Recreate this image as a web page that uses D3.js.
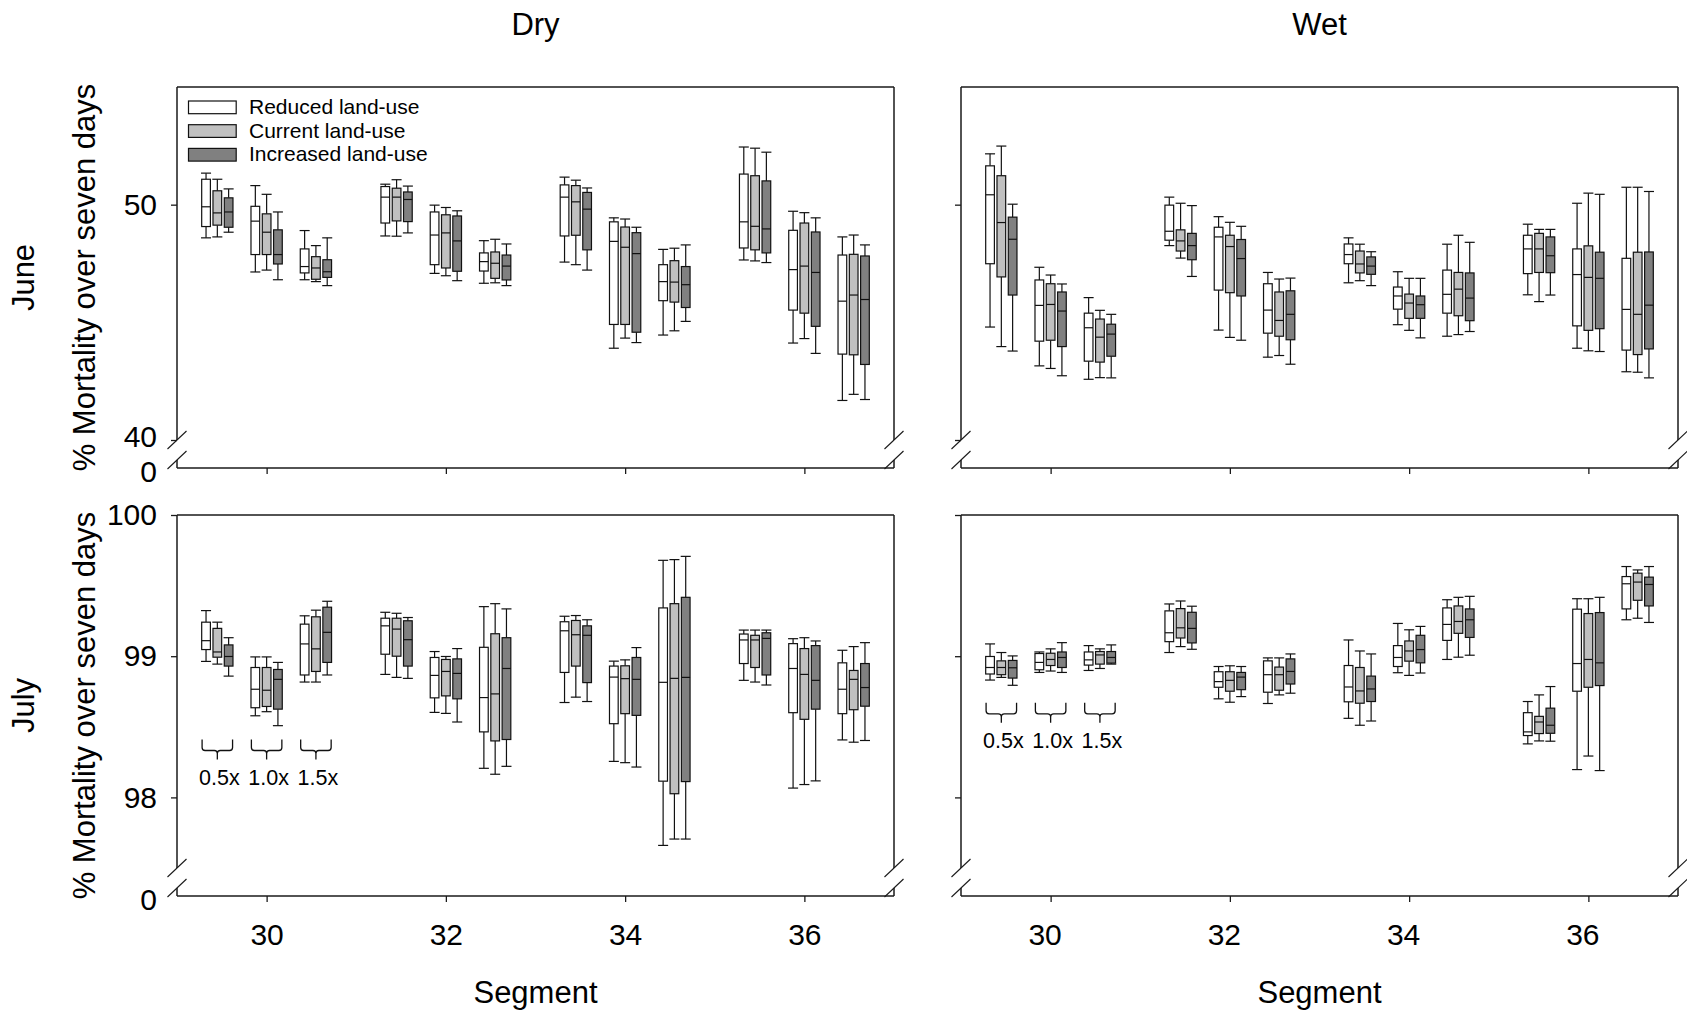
<!DOCTYPE html>
<html><head><meta charset="utf-8">
<script src="https://cdn.jsdelivr.net/npm/d3@7"></script>
<style>
html,body{margin:0;padding:0;background:#fff;}
svg{display:block;}
text{font-family:"Liberation Sans",Arial,Helvetica,sans-serif;fill:#000;}
</style></head><body>
<svg id="chart" width="1687" height="1014"></svg>
<script>
// ---------------- data ----------------
const segments = [30, 32, 34, 36];
const scenarios = ["0.5x", "1.0x", "1.5x"];
const scenarioOffsets = [-0.55, 0, 0.55];
const landUses = ["Reduced land-use", "Current land-use", "Increased land-use"];
const landUseOffsets = [-0.126, 0, 0.126];
const landUseFills = ["#ffffff", "#c0c0c0", "#808080"];
const columns = ["Dry", "Wet"];
const rows = ["June", "July"];
const juneYTicks = [40, 50];
const julyYTicks = [98, 99, 100];
const juneDomain = [40, 55];
const julyDomain = [97.5, 100];
const braceTops = [98.41, 98.67]; // July, Dry / Wet annotation level

// 12 groups (segment x scenario); each group: 3 boxes [lowWhisker, q1, median, q3, highWhisker]
const juneDry = [
  [[48.59,49.07,49.91,51.08,51.34],[48.63,49.13,49.65,50.59,51.08],[48.83,49.04,49.69,50.29,50.67]],
  [[47.14,47.88,49.30,49.93,50.81],[47.22,47.88,48.83,49.61,50.44],[46.81,47.48,47.88,48.93,49.69]],
  [[46.81,47.10,47.37,48.12,48.90],[46.73,46.83,47.31,47.79,48.26],[46.56,46.91,47.15,47.66,48.59]],
  [[48.67,49.22,50.32,50.77,50.87],[48.66,49.31,50.32,50.70,51.06],[48.80,49.28,50.22,50.54,50.79]],
  [[47.08,47.45,48.71,49.69,49.98],[46.98,47.31,48.80,49.57,49.88],[46.77,47.17,48.46,49.52,49.74]],
  [[46.66,47.18,47.58,47.95,48.47],[46.68,46.87,47.51,47.99,48.53],[46.56,46.80,47.39,47.86,48.33]],
  [[47.56,48.67,50.32,50.84,51.17],[47.45,48.70,50.12,50.81,51.04],[47.22,48.08,49.81,50.52,50.71]],
  [[43.90,44.91,48.44,49.27,49.44],[44.33,44.91,48.19,49.05,49.39],[44.14,44.58,47.92,48.81,49.04]],
  [[44.46,45.92,46.73,47.45,48.10],[44.64,45.86,46.71,47.62,48.15],[45.04,45.63,46.60,47.37,48.29]],
  [[47.65,48.16,49.27,51.30,52.45],[47.61,48.08,49.08,51.23,52.40],[47.54,47.95,48.97,51.01,52.23]],
  [[44.12,45.52,47.24,48.91,49.72],[44.31,45.39,47.39,49.22,49.66],[43.68,44.83,47.12,48.84,49.44]],
  [[41.68,43.65,45.90,47.86,48.63],[41.94,43.62,46.16,47.89,48.71],[41.72,43.21,45.97,47.82,48.29]]
];
const juneWet = [
  [[44.80,47.49,50.42,51.65,52.16],[43.97,46.93,49.24,51.23,52.49],[43.78,46.16,48.53,49.47,50.02]],
  [[43.15,44.20,45.72,46.80,47.34],[43.04,44.24,45.76,46.64,47.01],[42.73,43.97,45.48,46.29,46.63]],
  [[42.58,43.35,44.77,45.39,46.05],[42.65,43.31,44.37,45.14,45.51],[42.64,43.56,44.50,44.92,45.34]],
  [[48.26,48.49,48.87,49.98,50.32],[47.73,48.03,48.46,48.93,50.06],[46.95,47.66,48.26,48.78,49.96]],
  [[44.67,46.37,48.63,49.04,49.49],[44.36,46.26,48.22,48.70,49.25],[44.24,46.12,47.71,48.52,49.08]],
  [[43.52,44.54,45.52,46.64,47.12],[43.59,44.41,45.08,46.29,46.84],[43.22,44.26,45.34,46.34,46.88]],
  [[46.68,47.49,47.88,48.33,48.59],[46.77,47.10,47.48,48.03,48.32],[46.56,47.04,47.39,47.78,48.00]],
  [[44.90,45.56,46.12,46.50,47.15],[44.66,45.17,45.82,46.20,46.87],[44.34,45.17,45.75,46.12,46.87]],
  [[44.41,45.39,46.19,47.22,48.32],[44.48,45.28,46.41,47.12,48.70],[44.61,45.07,46.03,47.10,48.40]],
  [[46.17,47.07,48.12,48.70,49.17],[45.88,47.12,48.12,48.78,48.95],[46.16,47.11,47.83,48.63,48.95]],
  [[43.90,44.85,47.03,48.12,50.06],[43.79,44.66,46.91,48.25,50.49],[43.76,44.73,46.87,47.98,50.44]],
  [[42.90,43.82,45.55,47.72,50.74],[42.88,43.63,45.34,47.98,50.74],[42.64,43.87,45.73,47.99,50.56]]
];
const julyDry = [
  [[98.963,99.047,99.110,99.241,99.323],[98.944,98.993,99.030,99.197,99.241],[98.859,98.930,98.998,99.080,99.131]],
  [[98.578,98.635,98.766,98.920,98.995],[98.607,98.644,98.759,98.920,98.995],[98.508,98.625,98.836,98.906,98.956]],
  [[98.817,98.867,99.087,99.227,99.286],[98.817,98.892,99.052,99.279,99.326],[98.867,98.956,99.169,99.347,99.389]],
  [[98.871,99.014,99.215,99.269,99.311],[98.850,99.000,99.192,99.269,99.304],[98.843,98.930,99.117,99.251,99.274]],
  [[98.602,98.705,98.864,98.991,99.033],[98.595,98.719,98.892,98.977,98.998],[98.534,98.698,98.878,98.981,99.054]],
  [[98.206,98.464,98.707,99.063,99.351],[98.164,98.400,98.733,99.159,99.372],[98.220,98.410,98.913,99.131,99.335]],
  [[98.672,98.885,99.180,99.244,99.283],[98.710,98.930,99.152,99.253,99.288],[98.679,98.813,99.148,99.215,99.258]],
  [[98.255,98.522,98.852,98.930,98.965],[98.246,98.593,98.841,98.932,98.974],[98.215,98.581,98.836,98.991,99.061]],
  [[97.660,98.115,98.815,99.342,99.679],[97.705,98.026,98.843,99.372,99.684],[97.705,98.112,98.850,99.417,99.707]],
  [[98.829,98.948,99.115,99.157,99.185],[98.817,98.920,99.115,99.148,99.185],[98.796,98.867,99.126,99.166,99.185]],
  [[98.066,98.600,98.913,99.089,99.124],[98.091,98.553,98.871,99.054,99.131],[98.117,98.625,98.829,99.075,99.108]],
  [[98.407,98.593,98.766,98.953,99.042],[98.391,98.621,98.836,98.899,99.068],[98.403,98.646,98.778,98.948,99.096]]
];
const julyWet = [
  [[98.831,98.874,98.920,98.998,99.087],[98.850,98.869,98.920,98.967,99.026],[98.794,98.845,98.918,98.970,99.002]],
  [[98.885,98.904,98.956,99.019,99.030],[98.895,98.934,98.977,99.021,99.052],[98.885,98.920,98.991,99.030,99.096]],
  [[98.899,98.937,98.974,99.030,99.075],[98.913,98.944,99.009,99.033,99.052],[98.944,98.951,98.991,99.033,99.080]],
  [[99.026,99.103,99.166,99.321,99.370],[99.068,99.129,99.201,99.337,99.391],[99.049,99.094,99.197,99.311,99.354]],
  [[98.698,98.780,98.820,98.890,98.927],[98.674,98.752,98.829,98.890,98.932],[98.714,98.763,98.852,98.885,98.927]],
  [[98.665,98.745,98.869,98.967,98.988],[98.726,98.759,98.869,98.923,98.988],[98.738,98.803,98.892,98.981,99.016]],
  [[98.560,98.677,98.782,98.934,99.115],[98.511,98.667,98.754,98.920,99.037],[98.541,98.679,98.768,98.859,99.016]],
  [[98.883,98.927,98.991,99.075,99.232],[98.864,98.965,99.037,99.108,99.187],[98.881,98.953,99.047,99.148,99.211]],
  [[98.977,99.112,99.225,99.342,99.400],[98.993,99.162,99.246,99.356,99.417],[99.007,99.133,99.258,99.335,99.424]],
  [[98.379,98.438,98.464,98.600,98.679],[98.400,98.452,98.534,98.574,98.726],[98.398,98.454,98.511,98.632,98.785]],
  [[98.197,98.752,98.948,99.333,99.407],[98.293,98.780,98.977,99.302,99.407],[98.190,98.792,98.953,99.309,99.417]],
  [[99.258,99.335,99.513,99.564,99.635],[99.269,99.396,99.525,99.588,99.611],[99.239,99.356,99.508,99.560,99.635]]
];

// ---------------- layout ----------------
const svg = d3.select("#chart");
const colX = [177, 961];
const panelW = 717;
const rowY = [87, 515];
const panelH = 381;
const linH = 353;          // height of linear (unbroken) part
const lowerBreak = 373;    // position of lower break slash from panel top
const boxHalf = 0.0485;    // half box width in x units
const capHalf = 0.056;
const frameColor = "#1a1a1a";
const xLabelShift = [0, -6]; // tick label horizontal nudge per column

const panels = [
  {row: 0, col: 0, data: juneDry, domain: juneDomain, ticks: juneYTicks},
  {row: 0, col: 1, data: juneWet, domain: juneDomain, ticks: juneYTicks},
  {row: 1, col: 0, data: julyDry, domain: julyDomain, ticks: julyYTicks},
  {row: 1, col: 1, data: julyWet, domain: julyDomain, ticks: julyYTicks}
];

panels.forEach(p => {
  const left = colX[p.col], right = left + panelW;
  const top = rowY[p.row], bottom = top + panelH;
  const x = d3.scaleLinear().domain([29, 37]).range([left, right]);
  const y = d3.scaleLinear().domain(p.domain).range([top + linH, top]);
  const g = svg.append("g");

  // boxes
  p.data.forEach((grp, gi) => {
    const seg = segments[Math.floor(gi / 3)];
    const sc = gi % 3;
    grp.forEach((b, j) => {
      const c = seg + scenarioOffsets[sc] + landUseOffsets[j];
      const cx = x(c), x0 = x(c - boxHalf), x1 = x(c + boxHalf);
      const cx0 = x(c - capHalf), cx1 = x(c + capHalf);
      const [lo, q1, med, q3, hi] = b;
      const bg = g.append("g").attr("stroke", "#111").attr("stroke-width", 1.2);
      bg.append("line").attr("x1", cx).attr("x2", cx).attr("y1", y(hi)).attr("y2", y(q3));
      bg.append("line").attr("x1", cx).attr("x2", cx).attr("y1", y(q1)).attr("y2", y(lo));
      bg.append("line").attr("x1", cx0).attr("x2", cx1).attr("y1", y(hi)).attr("y2", y(hi));
      bg.append("line").attr("x1", cx0).attr("x2", cx1).attr("y1", y(lo)).attr("y2", y(lo));
      bg.append("rect").attr("x", x0).attr("y", y(q3)).attr("width", x1 - x0)
        .attr("height", Math.max(0.5, y(q1) - y(q3))).attr("fill", landUseFills[j]);
      bg.append("line").attr("x1", x0).attr("x2", x1).attr("y1", y(med)).attr("y2", y(med));
    });
  });

  // frame with axis breaks
  const fr = g.append("g").attr("stroke", frameColor).attr("stroke-width", 1.5).attr("fill", "none");
  fr.append("line").attr("x1", left).attr("x2", right).attr("y1", top).attr("y2", top);
  fr.append("line").attr("x1", left).attr("x2", right).attr("y1", bottom).attr("y2", bottom);
  [left, right].forEach(X => {
    fr.append("line").attr("x1", X).attr("x2", X).attr("y1", top).attr("y2", top + linH);
    fr.append("line").attr("x1", X).attr("x2", X).attr("y1", top + lowerBreak).attr("y2", bottom);
    [top + linH, top + lowerBreak].forEach(Y => {
      fr.append("line").attr("stroke-width", 1.1)
        .attr("x1", X - 9.5).attr("y1", Y + 9).attr("x2", X + 9.5).attr("y2", Y - 9);
    });
  });

  // y axis
  const yAxis = d3.axisLeft(y).tickValues(p.ticks).tickSize(6).tickPadding(14)
    .tickFormat(p.col === 0 ? d3.format("d") : () => "");
  const ya = g.append("g").attr("transform", `translate(${left},0)`).call(yAxis);
  ya.select(".domain").remove();
  ya.selectAll("line").attr("stroke", frameColor).attr("stroke-width", 1.3);
  ya.selectAll("text").attr("font-size", 30).attr("font-family", "Liberation Sans, Arial, sans-serif");
  // keep the lowest tick label clear of the "0" label below the break
  ya.selectAll(".tick text").filter(d => d === p.ticks[0] && p.row === 0).attr("dy", "0.2em");
  if (p.col === 0) {
    g.append("text").attr("x", left - 20).attr("y", bottom).attr("dy", "0.46em")
      .attr("text-anchor", "end").attr("font-size", 30).text("0");
  }

  // x axis
  const xAxis = d3.axisBottom(x).tickValues(segments).tickSize(6).tickPadding(22)
    .tickFormat(p.row === 1 ? d3.format("d") : () => "");
  const xa = g.append("g").attr("transform", `translate(0,${bottom})`).call(xAxis);
  xa.select(".domain").remove();
  xa.selectAll("line").attr("stroke", frameColor).attr("stroke-width", 1.3);
  xa.selectAll("text").attr("font-size", 30).attr("font-family", "Liberation Sans, Arial, sans-serif")
    .attr("dx", xLabelShift[p.col]);

  // legend (top-left panel)
  if (p.row === 0 && p.col === 0) {
    landUses.forEach((name, i) => {
      g.append("rect").attr("x", left + 11.5).attr("y", top + 14 + 23.7 * i)
        .attr("width", 47.7).attr("height", 12.7)
        .attr("fill", landUseFills[i]).attr("stroke", "#111").attr("stroke-width", 1.2);
      g.append("text").attr("x", left + 72).attr("y", top + 26.8 + 23.7 * i)
        .attr("font-size", 21).text(name);
    });
  }

  // braces with scenario labels (July panels, segment 30)
  if (p.row === 1) {
    const y0 = y(braceTops[p.col]);
    scenarios.forEach((s, sc) => {
      const c = segments[0] + scenarioOffsets[sc];
      const xc = x(c), xl = x(c - 0.17), xr = x(c + 0.17);
      const h = 11;
      const path = `M${xl},${y0} L${xl},${y0 + h - 3} Q${xl},${y0 + h} ${xl + 3},${y0 + h} L${xc - 3},${y0 + h}` +
        ` Q${xc},${y0 + h} ${xc},${y0 + h + 3} L${xc},${y0 + 20} M${xc},${y0 + h + 3} Q${xc},${y0 + h} ${xc + 3},${y0 + h}` +
        ` L${xr - 3},${y0 + h} Q${xr},${y0 + h} ${xr},${y0 + h - 3} L${xr},${y0}`;
      g.append("path").attr("d", path).attr("fill", "none").attr("stroke", "#111").attr("stroke-width", 1.3);
      g.append("text").attr("x", xc + 2).attr("y", y0 + 45).attr("text-anchor", "middle")
        .attr("font-size", 21.5).text(s);
    });
  }
});

// column titles and x labels
columns.forEach((c, i) => {
  const cx = colX[i] + panelW / 2;
  svg.append("text").attr("x", cx).attr("y", 35).attr("text-anchor", "middle")
    .attr("font-size", 31).text(c);
  svg.append("text").attr("x", cx).attr("y", 1003).attr("text-anchor", "middle")
    .attr("font-size", 31).text("Segment");
});

// row labels and y titles
rows.forEach((r, i) => {
  const cy = rowY[i] + panelH / 2;
  svg.append("text").attr("transform", `translate(34,${cy}) rotate(-90)`)
    .attr("text-anchor", "middle").attr("font-size", 31).text(r);
  svg.append("text").attr("transform", `translate(95,${cy}) rotate(-90)`)
    .attr("text-anchor", "middle").attr("font-size", 31).text("% Mortality over seven days");
});
</script>
</body></html>
